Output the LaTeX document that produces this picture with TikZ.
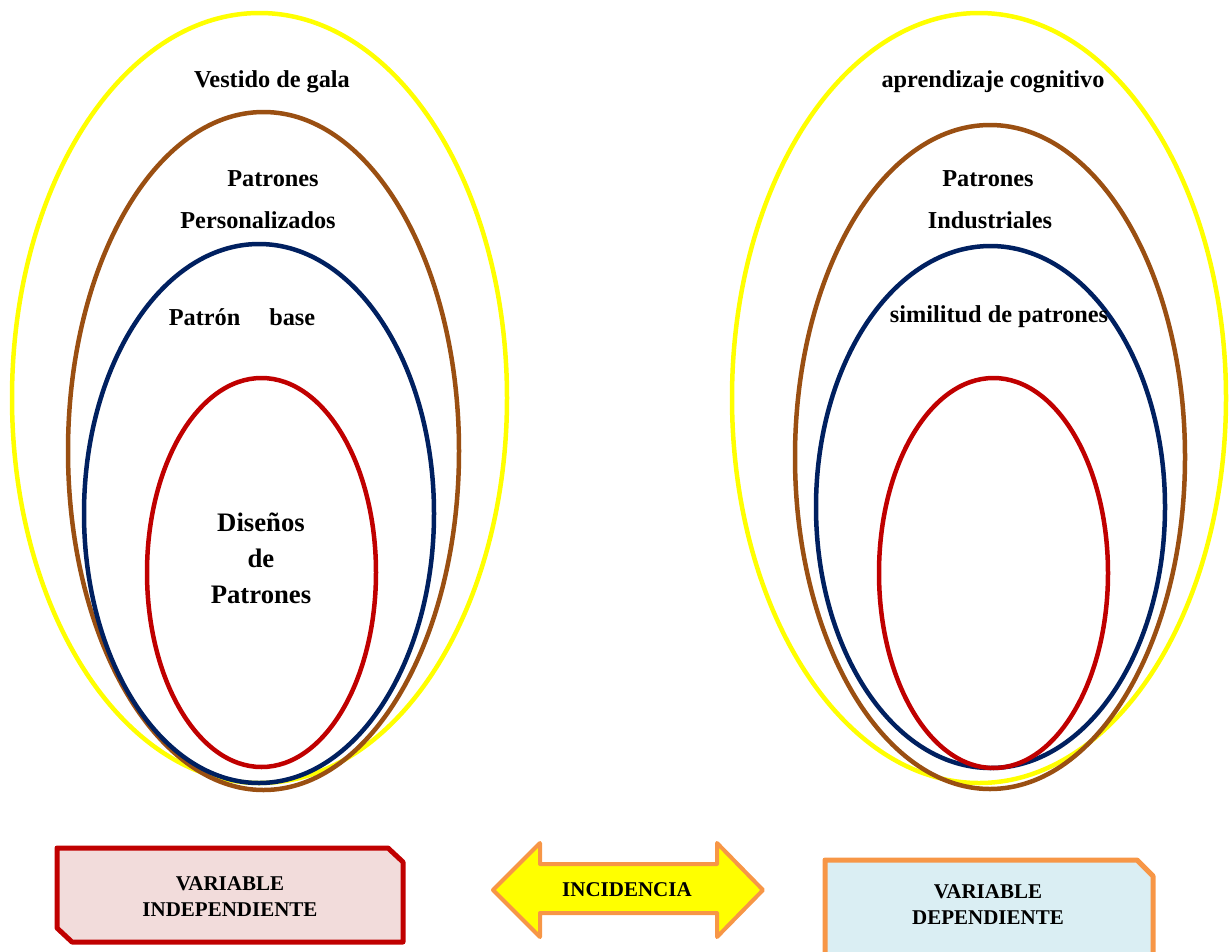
\documentclass[tikz,border=0pt]{standalone}
\usepackage{fontspec}
\setmainfont{Liberation Serif}
\definecolor{ylw}{HTML}{FFFF00}
\definecolor{brn}{HTML}{9A4F12}
\definecolor{nvy}{HTML}{002060}
\definecolor{rd}{HTML}{C00000}
\definecolor{org}{HTML}{F79646}
\definecolor{pinkfill}{HTML}{F2DCDB}
\definecolor{bluefill}{HTML}{DAEEF3}
\begin{document}
\begin{tikzpicture}[x=1pt,y=-1pt,
  ring/.style={line width=4.5pt},
  lbl/.style={font=\bfseries\fontsize{24.3}{28}\selectfont, inner sep=0pt, align=center},
  big/.style={font=\bfseries\fontsize{26.7}{36}\selectfont, inner sep=0pt, align=center},
  boxtxt/.style={font=\bfseries\fontsize{21}{26}\selectfont, inner sep=0pt, align=center}]
\useasboundingbox (0,0) rectangle (1229,951);
% left ellipses
\draw[ring, ylw] (259.5,398) ellipse [x radius=247.5, y radius=385];
\draw[ring, brn] (263.5,451) ellipse [x radius=195.5, y radius=339];
\draw[ring, nvy] (259,513.5) ellipse [x radius=175, y radius=269.5];
\draw[ring, rd] (261.5,572.5) ellipse [x radius=114.5, y radius=194.5];
% right ellipses
\draw[ring, ylw] (979,398) ellipse [x radius=247, y radius=385];
\draw[ring, brn] (990,457) ellipse [x radius=195, y radius=332];
\draw[ring, nvy] (990.5,507) ellipse [x radius=174.5, y radius=261];
\draw[ring, rd] (993.5,573) ellipse [x radius=114.5, y radius=195];
% left labels
\node[lbl] (vg) at (272,82) {Vestido de gala};
\node[lbl] (pp1) at (273,179) {Patrones};
\node[lbl] (pp2) at (258,220) {Personalizados};
\node[lbl] (pb) at (242,317) {Patrón\hspace{29pt}base};
\node[big] (dp) at (261,558) {Diseños\\de\\Patrones};
% right labels
\node[lbl] (ac) at (993,82) {aprendizaje cognitivo};
\node[lbl] (pi1) at (988,179) {Patrones};
\node[lbl] (pi2) at (990,220) {Industriales};
\node[lbl] (sp) at (999,317) {similitud de patrones};
% bottom left box
\draw[line width=5pt, rd, fill=pinkfill, line join=round]
  (57,848) -- (388,848) -- (403,862) -- (403,942) -- (72,942) -- (57,928) -- cycle;
\node[boxtxt] (vi) at (230,897) {VARIABLE\\INDEPENDIENTE};
% arrow
\draw[line width=4pt, org, fill=ylw, line join=round]
  (493,890) -- (540,843) -- (540,864) -- (717,864) -- (717,843) -- (763,890)
  -- (717,937) -- (717,913) -- (540,913) -- (540,937) -- cycle;
\node[boxtxt] (inc) at (627,890) {INCIDENCIA};
% bottom right box
\draw[line width=5pt, org, fill=bluefill, line join=round]
  (825,860) -- (1137,860) -- (1153,876) -- (1153,960) -- (825,960) -- cycle;
\node[boxtxt] (vd) at (988,905) {VARIABLE\\DEPENDIENTE};
\end{tikzpicture}
\end{document}
